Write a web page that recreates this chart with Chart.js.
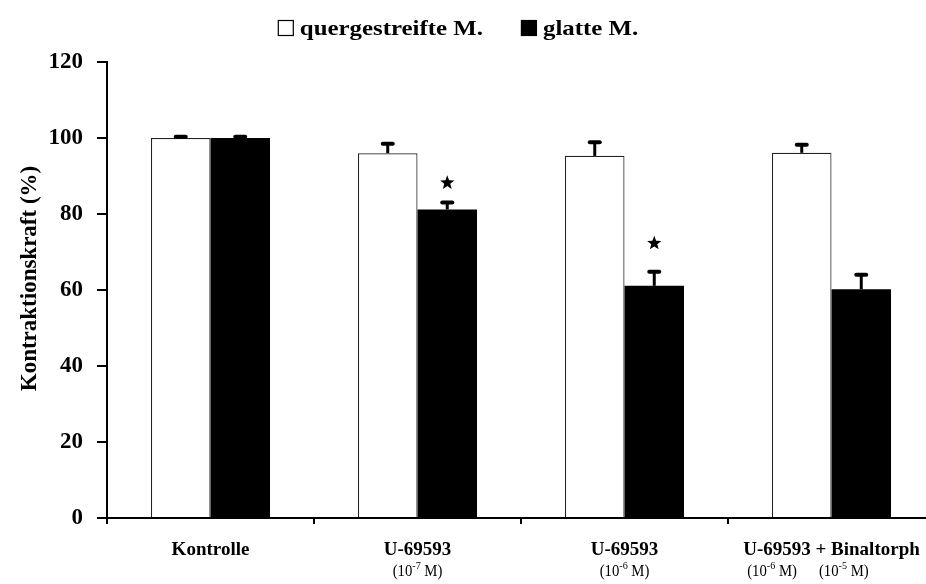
<!DOCTYPE html>
<html lang="de">
  <head>
    <meta charset="UTF-8" />
    <title>Kontraktionskraft</title>
    <script src="https://cdn.jsdelivr.net/npm/chart.js"></script>
    <style>
      html, body { margin: 0; padding: 0; background: #fff; overflow: hidden; }
      #wrap { width: 944px; height: 584px; }
    </style>
  </head>
  <body>
    <div id="wrap">
      <canvas id="chart"></canvas>
    </div>
    <script>
      const categories = ["Kontrolle", "U-69593", "U-69593", "U-69593 + Binaltorph"];
      // exponents of the molar concentrations written under each group
      const concentrations = [[], ["-7"], ["-6"], ["-6", "-5"]];

      const striated = [100, 96, 95.3, 96.1];
      const striatedErr = [0.3, 2.5, 3.6, 2.1];
      const smooth = [100, 81.2, 61.1, 60.2];
      const smoothErr = [0.3, 1.8, 3.7, 3.8];
      // significance marks above the smooth muscle bars
      const smoothStars = [null, 88.2, 72.3, null];

      const serif = "'Liberation Serif', 'Times New Roman', serif";

      const errorBars = {
        id: "errorBars",
        afterDatasetsDraw(chart) {
          const { ctx } = chart;
          const y = chart.scales.y;
          chart.data.datasets.forEach((ds, i) => {
            const meta = chart.getDatasetMeta(i);
            meta.data.forEach((bar, j) => {
              const top = y.getPixelForValue(ds.data[j] + ds.err[j]);
              ctx.save();
              ctx.strokeStyle = "#000";
              ctx.lineWidth = 3;
              ctx.beginPath();
              ctx.moveTo(bar.x, bar.y);
              ctx.lineTo(bar.x, top);
              ctx.stroke();
              ctx.lineWidth = 4;
              ctx.lineCap = "round";
              ctx.beginPath();
              ctx.moveTo(bar.x - 5, top);
              ctx.lineTo(bar.x + 5, top);
              ctx.stroke();
              ctx.restore();
            });
          });
        },
      };

      function star(ctx, cx, cy, r) {
        ctx.beginPath();
        for (let k = 0; k < 10; k++) {
          const rad = k % 2 ? r * 0.42 : r;
          const a = -Math.PI / 2 + (k * Math.PI) / 5;
          ctx.lineTo(cx + rad * Math.cos(a), cy + rad * Math.sin(a));
        }
        ctx.closePath();
        ctx.fill();
      }

      const stars = {
        id: "stars",
        afterDatasetsDraw(chart) {
          const { ctx } = chart;
          const meta = chart.getDatasetMeta(1);
          smoothStars.forEach((v, j) => {
            if (v == null) return;
            ctx.save();
            ctx.fillStyle = "#000";
            star(ctx, meta.data[j].x, chart.scales.y.getPixelForValue(v), 7.5);
            ctx.restore();
          });
        },
      };

      // "(10^-x M)" lines under the category names
      const concLabels = {
        id: "concLabels",
        afterDraw(chart) {
          const { ctx } = chart;
          const x = chart.scales.x;
          const baseY = 576, squeeze = 0.92;
          ctx.save();
          ctx.fillStyle = "#000";
          ctx.textBaseline = "alphabetic";
          ctx.textAlign = "left";
          const normal = "16px " + serif;
          const small = "11px " + serif;
          const partWidth = (exp) => {
            ctx.font = normal;
            let w = ctx.measureText("(10").width + ctx.measureText(" M)").width;
            ctx.font = small;
            return (w + ctx.measureText(exp).width) * squeeze;
          };
          const drawPart = (exp, left) => {
            ctx.save();
            ctx.translate(left, baseY);
            ctx.scale(squeeze, 1);
            let pos = 0;
            ctx.font = normal;
            ctx.fillText("(10", pos, 0);
            pos += ctx.measureText("(10").width;
            ctx.font = small;
            ctx.fillText(exp, pos, -7);
            pos += ctx.measureText(exp).width;
            ctx.font = normal;
            ctx.fillText(" M)", pos, 0);
            ctx.restore();
          };
          concentrations.forEach((parts, i) => {
            if (!parts.length) return;
            const cx = x.getPixelForValue(i);
            if (parts.length === 1) {
              drawPart(parts[0], cx - partWidth(parts[0]) / 2);
            } else {
              ctx.font = "bold 19px " + serif;
              let left = cx - ctx.measureText(categories[i]).width / 2 + 4;
              parts.forEach((p) => {
                drawPart(p, left);
                left += partWidth(p) + 22;
              });
            }
          });
          ctx.restore();
        },
      };

      const topLegend = {
        id: "topLegend",
        afterDraw(chart) {
          const { ctx } = chart;
          const box = 16, gap = 6, spacing = 38, cy = 28, stretch = 1.13;
          ctx.save();
          ctx.font = "bold 22px " + serif;
          ctx.textBaseline = "middle";
          const items = chart.data.datasets.map((d) => {
            const tw = ctx.measureText(d.label).width * stretch;
            return { text: d.label, fill: d.backgroundColor, tw, w: box + gap + tw };
          });
          const total = items.reduce((s, it) => s + it.w, 0) + spacing * (items.length - 1);
          let left = 458 - total / 2;
          items.forEach((it) => {
            ctx.fillStyle = it.fill;
            ctx.fillRect(left, cy - box / 2, box, box);
            ctx.strokeStyle = "#000";
            ctx.lineWidth = 1.2;
            ctx.strokeRect(left + 0.5, cy - box / 2 + 0.5, box - 1, box - 1);
            ctx.fillStyle = "#000";
            ctx.save();
            ctx.translate(left + box + gap, cy + 1);
            ctx.scale(stretch, 1);
            ctx.fillText(it.text, 0, 0);
            ctx.restore();
            left += it.w + spacing;
          });
          ctx.restore();
        },
      };

      new Chart(document.getElementById("chart"), {
        type: "bar",
        data: {
          labels: categories,
          datasets: [
            {
              label: "quergestreifte M.",
              data: striated,
              err: striatedErr,
              backgroundColor: "#fff",
              borderColor: "#222",
              borderWidth: 1.2,
            },
            {
              label: "glatte M.",
              data: smooth,
              err: smoothErr,
              backgroundColor: "#000",
              borderWidth: 0,
            },
          ],
        },
        options: {
          responsive: true,
          maintainAspectRatio: false,
          animation: false,
          layout: { padding: { top: 62, right: 9, left: 0, bottom: 0 } },
          datasets: { bar: { categoryPercentage: 0.575, barPercentage: 1 } },
          plugins: {
            legend: { display: false },
            tooltip: { enabled: false },
          },
          scales: {
            x: {
              border: { color: "#000", width: 2 },
              grid: { drawOnChartArea: false, offset: true, tickLength: 6, color: "#000", lineWidth: 2 },
              ticks: {
                color: "#000",
                font: { family: serif, size: 19, weight: "bold" },
                padding: 15,
                maxRotation: 0,
                autoSkip: false,
              },
              afterFit(scale) { scale.height = 66; },
            },
            y: {
              min: 0,
              max: 120,
              border: { color: "#000", width: 2 },
              grid: { drawOnChartArea: false, tickLength: 10, color: "#000", lineWidth: 2 },
              ticks: {
                stepSize: 20,
                color: "#000",
                padding: 14,
                font: { family: serif, size: 23, weight: "bold" },
              },
              title: {
                display: true,
                text: "    Kontraktionskraft (%)",
                color: "#000",
                font: { family: serif, size: 23, weight: "bold" },
                padding: { top: 16, bottom: 0 },
              },
              afterFit(scale) { scale.width = 107; },
            },
          },
        },
        plugins: [errorBars, stars, concLabels, topLegend],
      });
    </script>
  </body>
</html>
